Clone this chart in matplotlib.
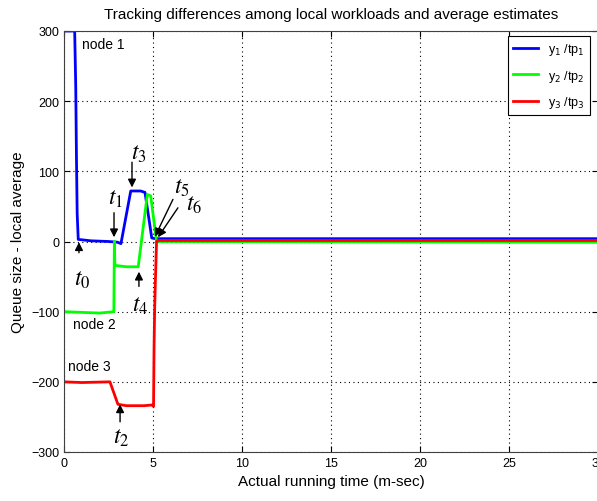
import numpy as np
import matplotlib
matplotlib.use('Agg')
import matplotlib.pyplot as plt

### Traces: queue size minus local average estimate for each node
t_node1 = [0, 0.6, 0.66, 0.7, 0.74, 0.8, 1.5, 2.5, 3.0, 3.2, 3.75, 4.3, 4.55, 4.93, 5.15, 30]
q_node1 = [300, 300, 220, 120, 40, 3, 1, 0, -1, -3, 72, 72, 70, 5, 4, 4]

t_node2 = [0, 1.0, 2.0, 2.8, 2.83, 2.86, 3.5, 4.17, 4.68, 4.87, 5.2, 30]
q_node2 = [-100, -101, -102, -100, 0, -34, -36, -36, 67, 65, 0, -1]

t_node3 = [0, 1.0, 2.58, 3.03, 3.5, 4.5, 4.93, 5.03, 5.06, 5.09, 5.13, 5.2, 5.3, 30]
q_node3 = [-200, -201, -200, -232, -234, -234, -233, -235, -150, -100, -60, 0, 1.5, 1.5]

# event markers: (label, arrow tip, arrow tail, text position)
events = [
    (r'$t_0$', (0.84, -1), (0.84, -16), (1.0, -53)),
    (r'$t_1$', (2.81, 6), (2.81, 41), (2.92, 62)),
    (r'$t_2$', (3.15, -232), (3.15, -257), (3.2, -278)),
    (r'$t_3$', (3.82, 77), (3.82, 113), (4.2, 126)),
    (r'$t_4$', (4.21, -43), (4.21, -64), (4.27, -90)),
    (r'$t_5$', (5.11, 7), (6.12, 60), (6.6, 78)),
    (r'$t_6$', (5.28, 6), (6.4, 48), (7.3, 53)),
]

node_names = ['node 1', 'node 2', 'node 3']
node_pos = [(1.0, 281), (0.5, -118), (0.22, -178)]

plt.rcParams['font.family'] = ['Liberation Sans', 'DejaVu Sans']
textsize = 11

fig = plt.figure(figsize=(5.97, 5.02), dpi=100)
ax = fig.add_axes([64/597, 49/502, 534/597, 421/502])

ax.plot(t_node1, q_node1, color='#0000ff', lw=2, label=r'y$_1$ /tp$_1$')
ax.plot(t_node2, q_node2, color='#00ff00', lw=2, label=r'y$_2$ /tp$_2$')
ax.plot(t_node3, q_node3, color='#ff0000', lw=2, label=r'y$_3$ /tp$_3$')

for lab, tip, tail, tpos in events:
    ax.annotate('', xy=tip, xytext=tail,
                arrowprops=dict(arrowstyle='-|>', color='k', lw=1, mutation_scale=12,
                                shrinkA=0, shrinkB=0))
    ax.text(tpos[0], tpos[1], lab, fontsize=17, math_fontfamily='stix',
            ha='center', va='center')

for name, (x, y) in zip(node_names, node_pos):
    ax.text(x, y, name, fontsize=10, ha='left', va='center')

ax.set_xlim(0, 30)
ax.set_ylim(-300, 300)
ax.set_xticks(np.arange(0, 31, 5))
ax.set_yticks(np.arange(-300, 301, 100))
ax.grid(True, color='k', linestyle=(0, (1, 3)), lw=0.8)
ax.tick_params(direction='in', top=True, right=True, labelsize=9, length=4)
for s in ax.spines.values():
    s.set_color('#404040')

ax.set_title('Tracking differences among local workloads and average estimates',
             fontsize=textsize, pad=9)
ax.set_xlabel('Actual running time (m-sec)', fontsize=textsize)
ax.set_ylabel('Queue size - local average', fontsize=textsize)

leg = ax.legend(loc='upper right', bbox_to_anchor=(0.985, 0.988), borderaxespad=0,
                fontsize=9, fancybox=False, framealpha=1, edgecolor='k',
                labelspacing=0.85, handlelength=2.0)
leg.get_frame().set_linewidth(0.8)

plt.savefig('out.png', dpi=100)
